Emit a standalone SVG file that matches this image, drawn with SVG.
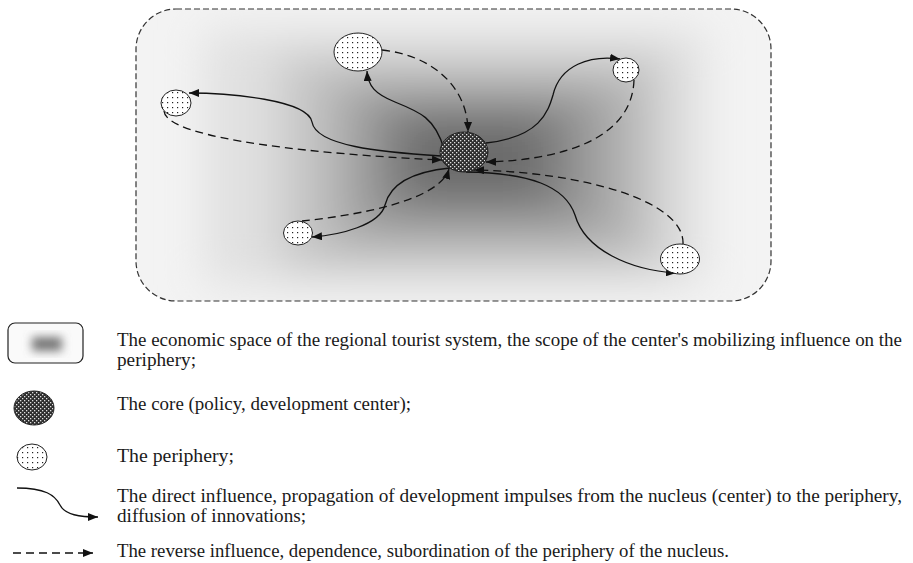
<svg xmlns="http://www.w3.org/2000/svg" width="913" height="563" viewBox="0 0 913 563">
<style>
.txt{font-family:"Liberation Serif","DejaVu Serif",serif;font-size:18px;fill:#1a1a1a}
.sol{fill:none;stroke:#111;stroke-width:1.3;marker-end:url(#arr)}
.dsh{fill:none;stroke:#111;stroke-width:1.3;stroke-dasharray:8 5;marker-end:url(#arr)}
.core{fill:url(#corePat);stroke:#222;stroke-width:1}
.per{fill:url(#perPat);stroke:#222;stroke-width:1}
</style>
<defs>
<marker id="arr" markerUnits="userSpaceOnUse" markerWidth="10" markerHeight="8" refX="10" refY="4" orient="auto">
<path d="M0,0 L10,4 L0,8 z" fill="#111"/>
</marker>
<pattern id="perPat" width="5" height="5" patternUnits="userSpaceOnUse">
<rect width="5" height="5" fill="#fff"/>
<rect x="2" y="2" width="1.2" height="1.2" fill="#222"/>
</pattern>
<pattern id="corePat" width="4" height="4" patternUnits="userSpaceOnUse">
<rect width="4" height="4" fill="#2e2e2e"/>
<rect x="0" y="0" width="1.3" height="1.3" fill="#e0e0e0"/>
<rect x="2" y="2" width="1.3" height="1.3" fill="#e0e0e0"/>
</pattern>
<filter id="blur" x="-30%" y="-30%" width="160%" height="160%"><feGaussianBlur stdDeviation="22"/></filter>
<filter id="blurS" x="-50%" y="-50%" width="200%" height="200%"><feGaussianBlur stdDeviation="5"/></filter>
<clipPath id="clipOuter"><rect x="136" y="9" width="635" height="292" rx="40"/></clipPath>
</defs>

<g id="space">
<rect x="136" y="9" width="635" height="292" rx="40" fill="#f3f3f3"/>
<g clip-path="url(#clipOuter)">
<g filter="url(#blur)">
<rect x="205" y="30" width="500" height="255" fill="#e0e0e0"/>
<rect x="280" y="55" width="385" height="215" fill="#c6c6c6"/>
<rect x="330" y="80" width="300" height="165" fill="#a8a8a8"/>
<rect x="370" y="100" width="215" height="120" fill="#888"/>
<rect x="405" y="118" width="140" height="80" fill="#6a6a6a"/>
</g>
</g>
<rect x="136" y="9" width="635" height="292" rx="40" fill="none" stroke="#333" stroke-width="1.2" stroke-dasharray="6 3"/>
</g>

<g id="connectors">
<path class="sol" d="M444,149 C435,118 420,112 395,102 C375,94 368,86 367,71"/>
<path class="dsh" d="M382,50 C430,55 468,85 468,132"/>
<path class="sol" d="M441,156 C380,152 316,146 312,122 C308,100 230,93 189,93"/>
<path class="dsh" d="M164,111 C166,140 330,155 442,160"/>
<path class="sol" d="M486,143 C540,137 548,112 553,95 C560,65 590,55 620,59"/>
<path class="dsh" d="M634,80 C632,140 560,160 486,162"/>
<path class="sol" d="M450,168 C410,172 390,185 385,205 C380,225 340,235 312,237"/>
<path class="dsh" d="M302,221 C360,215 440,200 449,169"/>
<path class="sol" d="M466,172 C530,173 565,186 575,215 C585,250 630,270 676,273"/>
<path class="dsh" d="M683,244 C685,200 580,172 474,170"/>
</g>

<g id="core"><ellipse class="core" cx="464" cy="152" rx="24" ry="20"/></g>
<g id="periphery-top"><ellipse class="per" cx="358" cy="52" rx="24" ry="19"/></g>
<g id="periphery-left"><ellipse class="per" cx="176" cy="103" rx="15" ry="13"/></g>
<g id="periphery-topright"><ellipse class="per" cx="626" cy="70" rx="13" ry="12"/></g>
<g id="periphery-bottomleft"><ellipse class="per" cx="298" cy="233" rx="14.5" ry="12"/></g>
<g id="periphery-bottomright"><ellipse class="per" cx="680" cy="259" rx="19.5" ry="15"/></g>

<g id="legend-space">
<rect x="8" y="323" width="75" height="40" rx="7" fill="#fafafa" stroke="#222" stroke-width="1.2"/>
<rect x="32" y="337" width="30" height="14" fill="#777" filter="url(#blurS)"/>
<text class="txt" x="117" y="346" textLength="785" lengthAdjust="spacingAndGlyphs">The economic space of the regional tourist system, the scope of the center's mobilizing influence on the</text>
<text class="txt" x="117" y="366" textLength="79" lengthAdjust="spacingAndGlyphs">periphery;</text>
</g>
<g id="legend-core">
<ellipse class="core" cx="34" cy="408" rx="20" ry="17"/>
<text class="txt" x="117" y="410" textLength="294" lengthAdjust="spacingAndGlyphs">The core (policy, development center);</text>
</g>
<g id="legend-periphery">
<ellipse class="per" cx="32" cy="457" rx="15" ry="13"/>
<text class="txt" x="117" y="462" textLength="117" lengthAdjust="spacingAndGlyphs">The periphery;</text>
</g>
<g id="legend-direct">
<path class="sol" d="M17,488 C45,488 55,495 60,505 C65,515 80,517 98,517"/>
<text class="txt" x="117" y="502" textLength="785" lengthAdjust="spacingAndGlyphs">The direct influence, propagation of development impulses from the nucleus (center) to the periphery,</text>
<text class="txt" x="117" y="522" textLength="189" lengthAdjust="spacingAndGlyphs">diffusion of innovations;</text>
</g>
<g id="legend-reverse">
<path class="dsh" d="M13,553 L93,553"/>
<text class="txt" x="117" y="557" textLength="612" lengthAdjust="spacingAndGlyphs">The reverse influence, dependence, subordination of the periphery of the nucleus.</text>
</g>
</svg>
